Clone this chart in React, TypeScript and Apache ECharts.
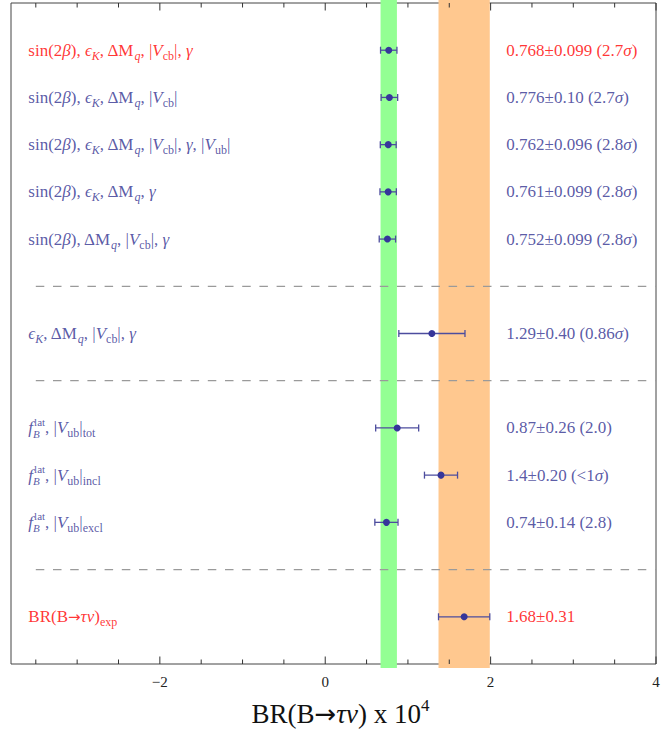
import React, { useEffect, useRef } from 'react';
import * as echarts from 'echarts';

// ---- data ----
const ROW_Y = [13, 12, 11, 10, 9, 7, 5, 4, 3, 1];
const BR_VALUES = [0.768, 0.776, 0.762, 0.761, 0.752, 1.29, 0.87, 1.4, 0.74, 1.68];
const BR_ERRORS = [0.099, 0.1, 0.096, 0.099, 0.099, 0.4, 0.26, 0.2, 0.14, 0.31];
const HIGHLIGHT = [true, false, false, false, false, false, false, false, false, true];
const LEFT_LABELS = [
  'sin(2{i|β}), {i|ϵ}{si|K}, ΔM{si|q}, |{i|V}{s|cb}|, {i|γ}',
  'sin(2{i|β}), {i|ϵ}{si|K}, ΔM{si|q}, |{i|V}{s|cb}|',
  'sin(2{i|β}), {i|ϵ}{si|K}, ΔM{si|q}, |{i|V}{s|cb}|, {i|γ}, |{i|V}{s|ub}|',
  'sin(2{i|β}), {i|ϵ}{si|K}, ΔM{si|q}, {i|γ}',
  'sin(2{i|β}), ΔM{si|q}, |{i|V}{s|cb}|, {i|γ}',
  '{i|ϵ}{si|K}, ΔM{si|q}, |{i|V}{s|cb}|, {i|γ}',
  '{i|f}{sb|B}{sup|lat}, |{i|V}{s|ub}|{s|tot}',
  '{i|f}{sb|B}{sup|lat}, |{i|V}{s|ub}|{s|incl}',
  '{i|f}{sb|B}{sup|lat}, |{i|V}{s|ub}|{s|excl}',
  'BR(B{a|→}{i|τν}){s|exp}',
];
const RIGHT_LABELS = [
  '0.768±0.099 (2.7{i|σ})',
  '0.776±0.10 (2.7{i|σ})',
  '0.762±0.096 (2.8{i|σ})',
  '0.761±0.099 (2.8{i|σ})',
  '0.752±0.099 (2.8{i|σ})',
  '1.29±0.40 (0.86{i|σ})',
  '0.87±0.26 (2.0)',
  '1.4±0.20 (<1{i|σ})',
  '0.74±0.14 (2.8)',
  '1.68±0.31',
];
const SEPARATOR_Y = [8, 6, 2];
const FIT_BAND = [0.768, 0.099];
const EXP_BAND = [1.68, 0.31];
const MAJOR_TICKS = [-2, 0, 2, 4];
const MINOR_TICKS = [-3.5, -3, -2.5, -1.5, -1, -0.5, 0.5, 1, 1.5, 2.5, 3, 3.5];

// ---- layout / style constants ----
const X_MIN = -3.8;
const X_MAX = 4.0;
const Y_MIN = 0;
const Y_MAX = 14;
const LEFT_LABEL_X = -3.59;
const RIGHT_LABEL_X = 2.19;
const SEP_X0 = -3.5;
const SERIF = '"Liberation Serif", "Times New Roman", "DejaVu Serif", serif';
const ARROW_FONT = '"DejaVu Sans", "Liberation Serif", serif';
const NAVY = '#30308f';
const RED = '#ff0000';

function richFor(p: string, color: string) {
  return {
    [p + 'i']: { color, fontSize: 17, fontStyle: 'italic', fontFamily: SERIF, lineHeight: 23 },
    [p + 'a']: { color, fontSize: 15, fontFamily: ARROW_FONT, lineHeight: 23 },
    [p + 's']: { color, fontSize: 12, fontFamily: SERIF, lineHeight: 12, verticalAlign: 'bottom' },
    [p + 'si']: { color, fontSize: 12, fontStyle: 'italic', fontFamily: SERIF, lineHeight: 12, verticalAlign: 'bottom' },
    [p + 'sb']: { color, fontSize: 11, fontStyle: 'italic', fontFamily: SERIF, lineHeight: 10, verticalAlign: 'bottom', width: 1 },
    [p + 'sup']: { color, fontSize: 11, fontFamily: SERIF, lineHeight: 10, verticalAlign: 'top' },
  };
}
const RICH = { ...richFor('b', NAVY), ...richFor('r', RED) };
const prefixMarkup = (m: string, p: string) => m.replace(/\{(\w+)\|/g, (_s, n) => `{${p}${n}|`);

export default function App() {
  const ref = useRef<HTMLDivElement>(null);
  useEffect(() => {
    if (!ref.current) return;
    const chart = echarts.init(ref.current, undefined, { renderer: 'svg' });

    const labelSeries = (xPos: number, texts: string[]) => ({
      type: 'scatter',
      symbolSize: 0,
      silent: true,
      z: 5,
      data: ROW_Y.map((y, i) => ({
        value: [xPos, y],
        label: { color: HIGHLIGHT[i] ? RED : NAVY },
      })),
      label: {
        show: true,
        position: 'right',
        distance: 0,
        fontFamily: SERIF,
        fontSize: 17,
        lineHeight: 23,
        formatter: (p: any) => prefixMarkup(texts[p.dataIndex], HIGHLIGHT[p.dataIndex] ? 'r' : 'b'),
        rich: RICH,
      },
    });

    const bandData = [
      [FIT_BAND[0] - FIT_BAND[1], FIT_BAND[0] + FIT_BAND[1], 0],
      [EXP_BAND[0] - EXP_BAND[1], EXP_BAND[0] + EXP_BAND[1], 1],
    ];

    chart.setOption({
      animation: false,
      grid: { left: 11, right: 8, top: 3, bottom: 74, show: true, borderColor: '#444', borderWidth: 1, backgroundColor: 'transparent' },
      xAxis: {
        type: 'value',
        min: X_MIN,
        max: X_MAX,
        axisLine: { show: false },
        axisTick: { show: false },
        axisLabel: { show: false },
        splitLine: { show: false },
        name: '{t|BR(B}{ta|→}{ti|τν}{t|) x 10}{tsup|4}',
        nameLocation: 'middle',
        nameGap: 33,
        nameTextStyle: {
          padding: [0, 0, 0, 14],
          rich: {
            t: { fontFamily: SERIF, fontSize: 27, color: '#111', lineHeight: 33 },
            ta: { fontFamily: ARROW_FONT, fontSize: 26, color: '#111', lineHeight: 33 },
            ti: { fontFamily: SERIF, fontSize: 27, fontStyle: 'italic', color: '#111', lineHeight: 33 },
            tsup: { fontFamily: SERIF, fontSize: 17, color: '#111', lineHeight: 17, verticalAlign: 'top' },
          },
        },
      },
      yAxis: {
        type: 'value',
        min: Y_MIN,
        max: Y_MAX,
        show: false,
        splitLine: { show: false },
      },
      series: [
        {
          type: 'custom',
          name: 'bands',
          silent: true,
          z: 1,
          data: bandData,
          renderItem: (_params: any, api: any) => {
            const lo = api.value(0), hi = api.value(1), k = api.value(2);
            const a = api.coord([lo, Y_MAX]);
            const b = api.coord([hi, Y_MIN]);
            return {
              type: 'rect',
              shape: { x: a[0], y: a[1] - 3, width: b[0] - a[0], height: b[1] - a[1] + 7 },
              style: { fill: k === 0 ? '#93ff93' : '#ffc88f' },
            };
          },
        },
        {
          type: 'custom',
          name: 'separators',
          silent: true,
          z: 2,
          data: SEPARATOR_Y.map((y) => [y]),
          renderItem: (_params: any, api: any) => {
            const y = api.value(0);
            const a = api.coord([SEP_X0, y]);
            const b = api.coord([X_MAX, y]);
            return {
              type: 'line',
              shape: { x1: a[0], y1: a[1], x2: b[0], y2: b[1] },
              style: { stroke: '#9a9a9a', lineWidth: 1.3, lineDash: [8.5, 8.7] },
            };
          },
        },
        {
          type: 'custom',
          name: 'ticks',
          silent: true,
          z: 3,
          data: [...MAJOR_TICKS.map((t) => [t, 1]), ...MINOR_TICKS.map((t) => [t, 0])],
          renderItem: (_params: any, api: any) => {
            const t = api.value(0), major = api.value(1) === 1;
            const bot = api.coord([t, Y_MIN]);
            const top = api.coord([t, Y_MAX]);
            const len = major ? 7.5 : 4.5;
            const children: any[] = [
              { type: 'line', shape: { x1: bot[0], y1: bot[1], x2: bot[0], y2: bot[1] - len }, style: { stroke: '#333', lineWidth: 1 } },
              { type: 'line', shape: { x1: top[0], y1: top[1], x2: top[0], y2: top[1] + len }, style: { stroke: '#333', lineWidth: 1 } },
            ];
            if (major) {
              children.push({
                type: 'text',
                x: bot[0],
                y: bot[1] + 18,
                style: {
                  text: t < 0 ? '\u2212' + Math.abs(t) : String(t),
                  fontFamily: SERIF,
                  fontSize: 15,
                  fill: '#222',
                  align: 'center',
                  verticalAlign: 'middle',
                },
              });
            }
            return { type: 'group', children };
          },
        },
        {
          type: 'custom',
          name: 'predictions',
          silent: true,
          z: 4,
          data: BR_VALUES.map((v, i) => [v, ROW_Y[i], BR_ERRORS[i]]),
          renderItem: (_params: any, api: any) => {
            const v = api.value(0), y = api.value(1), e = api.value(2);
            const p0 = api.coord([v - e, y]);
            const p1 = api.coord([v + e, y]);
            const pc = api.coord([v, y]);
            const st = { stroke: '#4d4d9e', lineWidth: 1.3 };
            return {
              type: 'group',
              children: [
                { type: 'line', shape: { x1: p0[0], y1: p0[1], x2: p1[0], y2: p1[1] }, style: st },
                { type: 'line', shape: { x1: p0[0], y1: p0[1] - 3.5, x2: p0[0], y2: p0[1] + 3.5 }, style: st },
                { type: 'line', shape: { x1: p1[0], y1: p1[1] - 3.5, x2: p1[0], y2: p1[1] + 3.5 }, style: st },
                { type: 'circle', shape: { cx: pc[0], cy: pc[1], r: 3.5 }, style: { fill: '#36369a' } },
              ],
            };
          },
        },
        labelSeries(LEFT_LABEL_X, LEFT_LABELS),
        labelSeries(RIGHT_LABEL_X, RIGHT_LABELS),
      ],
    });
    return () => chart.dispose();
  }, []);

  return <div ref={ref} style={{ position: 'fixed', left: 0, top: 0, width: 664, height: 738, background: '#fff' }} />;
}
